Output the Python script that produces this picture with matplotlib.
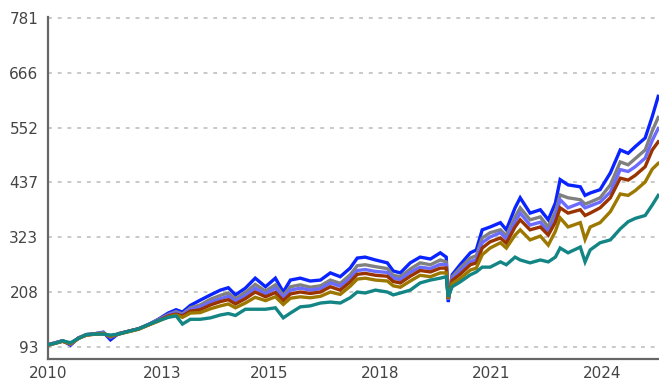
import numpy as np
import matplotlib
matplotlib.use("Agg")
import matplotlib.pyplot as plt

# ==============================================================================
# DATA  (decimal years, index level per series)
# ==============================================================================
years = [2010.00, 2010.19, 2010.37, 2010.57, 2010.77, 2010.97, 2011.20, 2011.40,
         2011.58, 2011.78, 2012.04, 2012.29, 2012.54, 2012.79, 2013.04, 2013.24,
         2013.40, 2013.60, 2013.85, 2014.11, 2014.36, 2014.56, 2014.74, 2014.99,
         2015.24, 2015.50, 2015.75, 2015.95, 2016.13, 2016.38, 2016.63, 2016.89,
         2017.14, 2017.39, 2017.64, 2017.82, 2018.02, 2018.28, 2018.58, 2018.73,
         2018.91, 2019.16, 2019.41, 2019.67, 2019.92, 2020.07, 2020.12, 2020.22,
         2020.42, 2020.68, 2020.83, 2020.98, 2021.18, 2021.44, 2021.59, 2021.81,
         2021.94, 2022.19, 2022.45, 2022.65, 2022.83, 2022.95, 2023.15, 2023.46,
         2023.58, 2023.71, 2023.96, 2024.22, 2024.47, 2024.67, 2024.85, 2025.10,
         2025.28, 2025.43]

s_blue = [97, 102, 106, 97, 112, 119, 121, 124, 108, 121, 126, 131, 140, 151,
          164, 171, 166, 180, 191, 202, 212, 217, 202, 216, 237, 219, 237, 208,
          233, 237, 231, 233, 248, 240, 258, 279, 281, 275, 269, 252, 248, 269,
          281, 277, 290, 281, 187, 244, 265, 290, 296, 338, 344, 353, 338, 384,
          405, 373, 380, 359, 394, 443, 432, 428, 410, 415, 422, 457, 505, 498,
          512, 530, 575, 617]
s_gray = [98, 102, 106, 99, 112, 119, 121, 123, 113, 121, 126, 131, 140, 150,
          161, 167, 162, 175, 181, 193, 201, 206, 194, 207, 224, 210, 223, 201,
          219, 223, 218, 221, 233, 226, 244, 263, 265, 261, 257, 243, 240, 256,
          269, 265, 275, 271, 192, 240, 258, 279, 284, 321, 332, 338, 326, 365,
          384, 359, 365, 344, 376, 411, 405, 401, 392, 396, 405, 432, 480, 474,
          487, 505, 545, 573]
s_lblue = [98, 102, 106, 99, 112, 118, 121, 122, 114, 120, 126, 131, 140, 149,
           160, 165, 160, 172, 177, 187, 194, 199, 189, 200, 216, 204, 216, 196,
           212, 216, 212, 215, 227, 220, 237, 253, 255, 251, 249, 237, 234, 249,
           260, 257, 266, 265, 193, 236, 252, 271, 276, 311, 323, 332, 319, 355,
           373, 348, 354, 334, 364, 401, 384, 394, 384, 388, 396, 417, 464, 460,
           470, 488, 525, 550]
s_brown = [97, 101, 105, 100, 111, 118, 120, 121, 115, 120, 126, 131, 139, 148,
           158, 162, 158, 168, 171, 181, 188, 192, 183, 194, 208, 198, 207, 190,
           204, 208, 205, 208, 219, 212, 229, 245, 247, 243, 241, 230, 227, 241,
           253, 250, 258, 258, 194, 232, 245, 265, 269, 300, 313, 321, 310, 344,
           359, 338, 344, 327, 354, 384, 373, 380, 368, 373, 384, 405, 446, 442,
           452, 470, 505, 522]
s_olive = [97, 101, 105, 100, 111, 118, 120, 121, 116, 120, 125, 130, 139, 147,
           156, 160, 155, 164, 165, 173, 179, 183, 175, 185, 197, 190, 198, 182,
           195, 198, 196, 199, 208, 203, 220, 235, 237, 233, 231, 221, 218, 231,
           243, 240, 248, 248, 195, 226, 236, 254, 258, 286, 300, 311, 300, 327,
           338, 317, 325, 306, 335, 363, 344, 353, 318, 344, 353, 376, 413, 410,
           420, 438, 465, 477]
s_teal = [98, 101, 106, 102, 111, 119, 120, 120, 118, 120, 126, 131, 140, 148,
          155, 158, 141, 151, 151, 154, 160, 163, 159, 172, 172, 172, 175, 154,
          164, 177, 179, 185, 187, 185, 196, 208, 206, 212, 208, 202, 206, 212,
          227, 233, 237, 240, 198, 219, 229, 244, 250, 260, 260, 271, 265, 281,
          275, 269, 275, 271, 281, 300, 290, 302, 271, 296, 311, 317, 340, 355,
          362, 368, 390, 410]

series = [s_blue, s_gray, s_lblue, s_brown, s_olive, s_teal]
colors = ["#0a24ff", "#808080", "#6b6bff", "#993300", "#9c7800", "#138585"]

y_ticks = ["93", "208", "323", "437", "552", "666", "781"]
x_ticks = ["2010", "2013", "2015", "2018", "2021", "2024"]

# ==============================================================================
# PLOT
# ==============================================================================
fig = plt.figure(figsize=(6.59, 3.80), dpi=100)
ax = fig.add_axes([0.0728, 0.0553, 0.9272, 0.9])

for vals, c in zip(series, colors):
    ax.plot(years, vals, color=c, lw=2.4, solid_joinstyle="miter", zorder=3)

ax.set_xlim(2010.0, 2025.45)
ax.set_ylim(68, 783)

ax.set_yticks(np.linspace(93, 781, len(y_ticks)))
ax.set_yticklabels(y_ticks)
ax.set_xticks([2010.0, 2012.9, 2015.6, 2018.4, 2021.2, 2024.0])
ax.set_xticklabels(x_ticks)

ax.grid(axis="y", color="#c8c8c8", lw=1.4, linestyle=(0, (2, 3)), zorder=0)
ax.grid(axis="x", visible=False)

for side in ("top", "right"):
    ax.spines[side].set_visible(False)
for side in ("left", "bottom"):
    ax.spines[side].set_color("#666666")
    ax.spines[side].set_linewidth(1.6)

ax.tick_params(axis="both", length=0, labelsize=11, labelcolor="#444444")
ax.tick_params(axis="y", pad=7)
ax.tick_params(axis="x", pad=5)

fig.savefig("out.png", dpi=100)
